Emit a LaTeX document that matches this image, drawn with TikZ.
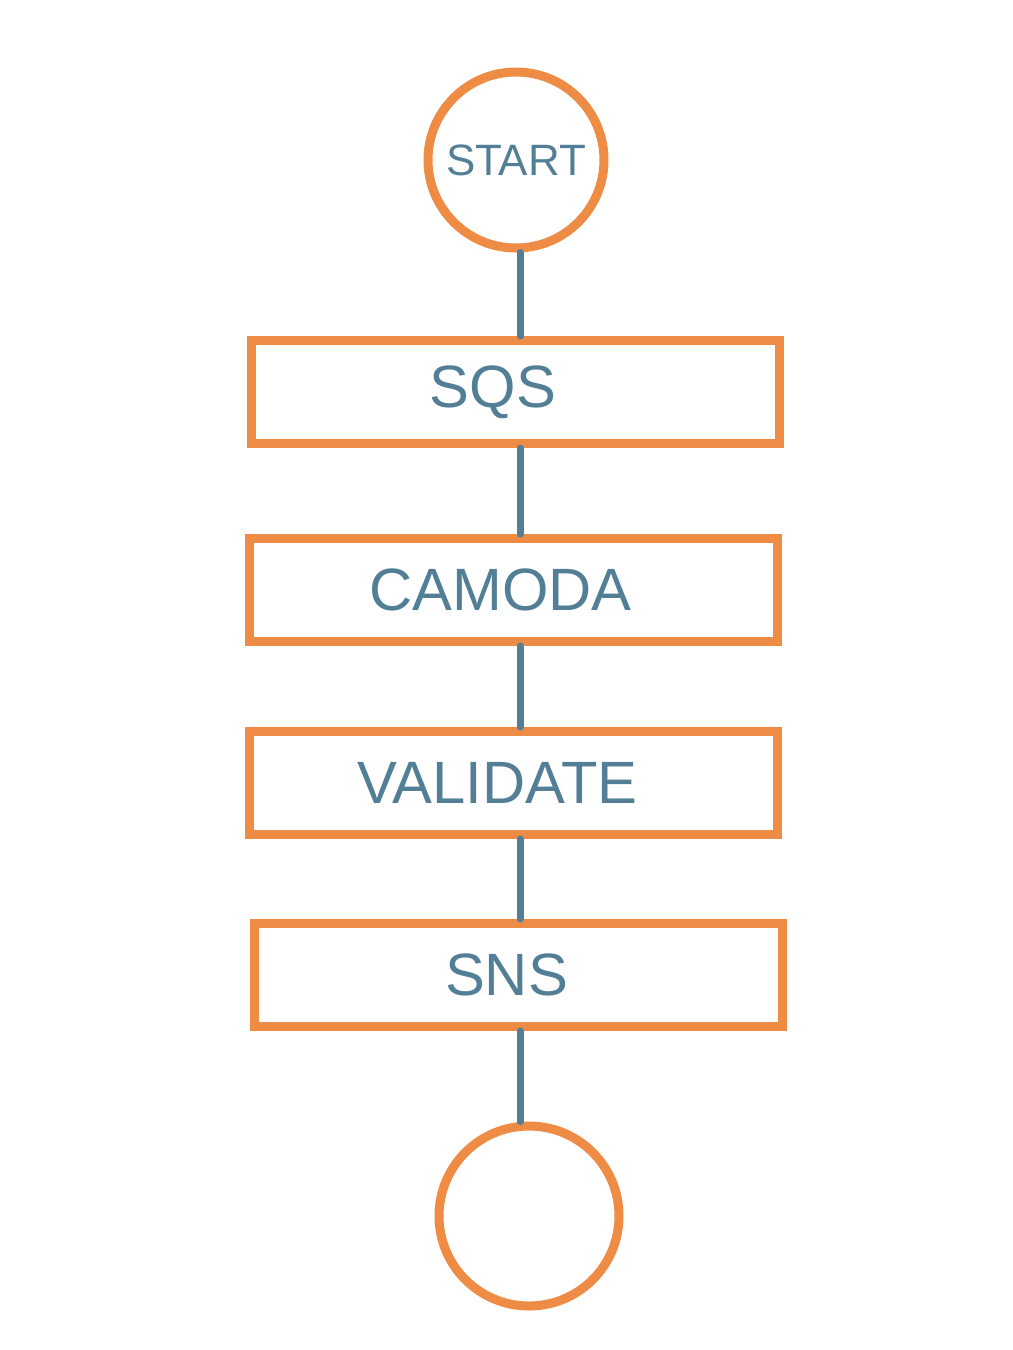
\documentclass[tikz,border=0pt]{standalone}
\usepackage{fontspec}
\setmainfont{Liberation Sans}
\usetikzlibrary{positioning,calc}
\definecolor{flowor}{HTML}{EE8B45}
\definecolor{flowbl}{HTML}{527F96}

\begin{document}
\begin{tikzpicture}[
  stage/.style={draw=flowor,line width=0.09cm,minimum width=5.28cm,minimum height=1.03cm,inner sep=0pt,font=\fontsize{17}{20}\selectfont,text=flowbl},
  term/.style={circle,draw=flowor,line width=0.09cm,inner sep=0pt,font=\fontsize{12.5}{15}\selectfont,text=flowbl},
  link/.style={draw=flowbl,line width=0.07cm,line cap=round}
]
\useasboundingbox (0,0) rectangle (10.13,-13.5);
\node[term,minimum size=1.76cm] (start) at (5.16,-1.60) {START};
\foreach \name/\x/\y/\lab/\dx in {sqs/5.15/-3.92/SQS/0.44cm, camoda/5.135/-5.90/CAMODA/0.26cm, validate/5.135/-7.83/VALIDATE/0.32cm, sns/5.185/-9.75/SNS/0.24cm}{
  \node[stage] (\name) at (\x,\y) {\lab\hspace*{\dx}};
}
\node[term,minimum size=1.80cm] (stop) at (5.29,-12.16) {};
% connectors, kept vertical
\draw[link] ($(start.south)+(0.04,0)$) -- ($(start.south |- sqs.north)+(0.04,0)$);
\draw[link] ($(sqs.south)+(0.05,0)$) -- ($(sqs.south |- camoda.north)+(0.05,0)$);
\draw[link] ($(camoda.south)+(0.065,0)$) -- ($(camoda.south |- validate.north)+(0.065,0)$);
\draw[link] ($(validate.south)+(0.065,0)$) -- ($(validate.south |- sns.north)+(0.065,0)$);
\draw[link] ($(sns.south)+(0.015,0)$) -- ($(sns.south |- stop.north)+(0.015,0)$);
\end{tikzpicture}
\end{document}
